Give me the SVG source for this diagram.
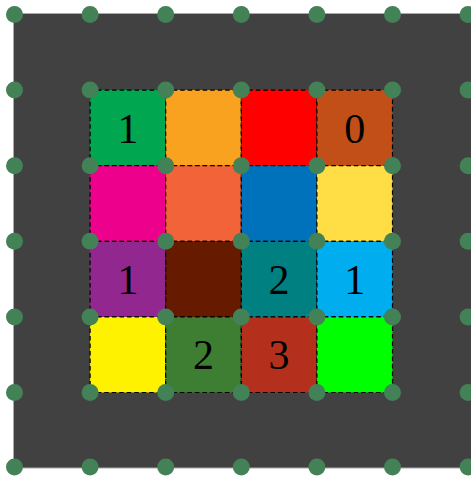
<svg xmlns="http://www.w3.org/2000/svg" width="471" height="480" viewBox="0 0 471 480">
<style>
.cell{stroke:#000;stroke-width:1.2;stroke-dasharray:4.5 3}
.num{font-family:"Liberation Serif","Times New Roman",serif;font-size:42px;fill:#000;text-anchor:middle}
.dot{fill:#438156}
</style>
<defs>
<circle id="d" r="8.5" class="dot"/>
</defs>
<rect id="board" x="13.5" y="13.5" width="470" height="454.5" fill="#414141" stroke="#a9a9a9" stroke-width="1"/>
<g id="cells">
<g id="c11"><rect class="cell" x="90.1" y="90.1" width="75.6" height="75.6" rx="7" fill="#00A650"/><text class="num" x="127.9" y="142.5">1</text></g>
<g id="c12"><rect class="cell" x="165.7" y="90.1" width="75.6" height="75.6" rx="7" fill="#F9A21F"/></g>
<g id="c13"><rect class="cell" x="241.3" y="90.1" width="75.6" height="75.6" rx="7" fill="#FF0000"/></g>
<g id="c14"><rect class="cell" x="316.9" y="90.1" width="75.6" height="75.6" rx="7" fill="#C24F17"/><text class="num" x="354.7" y="142.5">0</text></g>
<g id="c21"><rect class="cell" x="90.1" y="165.7" width="75.6" height="75.6" rx="7" fill="#EC008C"/></g>
<g id="c22"><rect class="cell" x="165.7" y="165.7" width="75.6" height="75.6" rx="7" fill="#F26339"/></g>
<g id="c23"><rect class="cell" x="241.3" y="165.7" width="75.6" height="75.6" rx="7" fill="#0072BC"/></g>
<g id="c24"><rect class="cell" x="316.9" y="165.7" width="75.6" height="75.6" rx="7" fill="#FFDD44"/></g>
<g id="c31"><rect class="cell" x="90.1" y="241.3" width="75.6" height="75.6" rx="7" fill="#92278F"/><text class="num" x="127.9" y="293.7">1</text></g>
<g id="c32"><rect class="cell" x="165.7" y="241.3" width="75.6" height="75.6" rx="7" fill="#661A00"/></g>
<g id="c33"><rect class="cell" x="241.3" y="241.3" width="75.6" height="75.6" rx="7" fill="#008080"/><text class="num" x="279.1" y="293.7">2</text></g>
<g id="c34"><rect class="cell" x="316.9" y="241.3" width="75.6" height="75.6" rx="7" fill="#00AEEF"/><text class="num" x="354.7" y="293.7">1</text></g>
<g id="c41"><rect class="cell" x="90.1" y="316.9" width="75.6" height="75.6" rx="7" fill="#FFF200"/></g>
<g id="c42"><rect class="cell" x="165.7" y="316.9" width="75.6" height="75.6" rx="7" fill="#3E7E33"/><text class="num" x="203.5" y="369.3">2</text></g>
<g id="c43"><rect class="cell" x="241.3" y="316.9" width="75.6" height="75.6" rx="7" fill="#B5301C"/><text class="num" x="279.1" y="369.3">3</text></g>
<g id="c44"><rect class="cell" x="316.9" y="316.9" width="75.6" height="75.6" rx="7" fill="#00FF00"/></g>
</g>
<g id="dots">
<use href="#d" x="14.5" y="14.5"/><use href="#d" x="90.1" y="14.5"/><use href="#d" x="165.7" y="14.5"/><use href="#d" x="241.3" y="14.5"/><use href="#d" x="316.9" y="14.5"/><use href="#d" x="392.5" y="14.5"/><use href="#d" x="468.1" y="14.5"/>
<use href="#d" x="14.5" y="90.1"/><use href="#d" x="90.1" y="90.1"/><use href="#d" x="165.7" y="90.1"/><use href="#d" x="241.3" y="90.1"/><use href="#d" x="316.9" y="90.1"/><use href="#d" x="392.5" y="90.1"/><use href="#d" x="468.1" y="90.1"/>
<use href="#d" x="14.5" y="165.7"/><use href="#d" x="90.1" y="165.7"/><use href="#d" x="165.7" y="165.7"/><use href="#d" x="241.3" y="165.7"/><use href="#d" x="316.9" y="165.7"/><use href="#d" x="392.5" y="165.7"/><use href="#d" x="468.1" y="165.7"/>
<use href="#d" x="14.5" y="241.3"/><use href="#d" x="90.1" y="241.3"/><use href="#d" x="165.7" y="241.3"/><use href="#d" x="241.3" y="241.3"/><use href="#d" x="316.9" y="241.3"/><use href="#d" x="392.5" y="241.3"/><use href="#d" x="468.1" y="241.3"/>
<use href="#d" x="14.5" y="316.9"/><use href="#d" x="90.1" y="316.9"/><use href="#d" x="165.7" y="316.9"/><use href="#d" x="241.3" y="316.9"/><use href="#d" x="316.9" y="316.9"/><use href="#d" x="392.5" y="316.9"/><use href="#d" x="468.1" y="316.9"/>
<use href="#d" x="14.5" y="392.5"/><use href="#d" x="90.1" y="392.5"/><use href="#d" x="165.7" y="392.5"/><use href="#d" x="241.3" y="392.5"/><use href="#d" x="316.9" y="392.5"/><use href="#d" x="392.5" y="392.5"/><use href="#d" x="468.1" y="392.5"/>
<use href="#d" x="14.5" y="467"/><use href="#d" x="90.1" y="467"/><use href="#d" x="165.7" y="467"/><use href="#d" x="241.3" y="467"/><use href="#d" x="316.9" y="467"/><use href="#d" x="392.5" y="467"/><use href="#d" x="468.1" y="467"/>
</g>
</svg>
